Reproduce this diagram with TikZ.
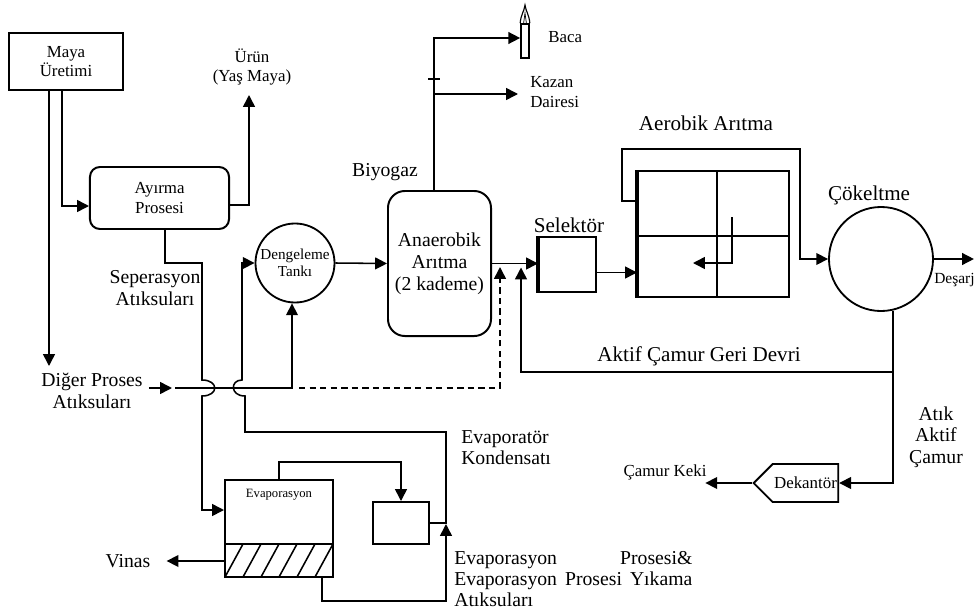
\documentclass[tikz,border=0pt]{standalone}
\usepackage{fontspec}
\setmainfont{Liberation Serif}
\usetikzlibrary{arrows.meta, positioning, calc, shapes.symbols}
\tikzset{
    box/.style={rectangle, draw=black, line width=1.4pt, inner sep=0pt, align=center, font=\fontsize{12}{14}\selectfont},
    roundbox/.style={box, rounded corners=7pt},
    tank/.style={circle, draw=black, line width=1.3pt, inner sep=0pt, align=center},
    lbl/.style={inner sep=0pt, align=center, font=\fontsize{14}{15.2}\selectfont},
    biglbl/.style={lbl, font=\fontsize{15}{16}\selectfont},
    slbl/.style={inner sep=0pt, align=center, font=\fontsize{12}{14}\selectfont},
    flow/.style={-{Triangle[length=8.4pt, width=8.4pt]}, line width=1.1pt},
    pipe/.style={line width=1.1pt},
    edge/.style={line width=2.4pt},
}

\begin{document}
\begin{tikzpicture}[x=0.025cm, y=-0.025cm]
    \useasboundingbox (0,0) rectangle (974,612);
    % sources
    \node[box, minimum width=2.85cm, minimum height=1.425cm] (maya) at (66,61.5) {Maya\\Üretimi};
    \node[roundbox, minimum width=3.475cm, minimum height=1.55cm] (ayirma) at (159.5,198) {Ayırma\\Prosesi};
    \node[slbl] (urun) at (252,67) {Ürün\\(Yaş Maya)};
    \node[lbl] (sepl) at (155,288) {Seperasyon\\Atıksuları};
    \node[lbl] (diger) at (92,391) {Diğer Proses\\Atıksuları};
    % treatment line
    \node[tank, minimum size=1.975cm, font=\fontsize{10.8}{12}\selectfont] (deng) at (295,263) {Dengeleme\\Tankı};
    \node[box, rounded corners=12pt, minimum width=2.575cm, minimum height=3.625cm, font=\fontsize{14}{15.5}\selectfont] (anaer) at (439.5,263.5) {Anaerobik\\Arıtma\\(2 kademe)};
    \node[lbl] (biyo) at (385,172) {Biyogaz};
    \node[box, minimum width=1.425cm, minimum height=1.375cm] (sel) at (567.5,264.5) {};
    \node[biglbl] (sell) at (569,225) {Selektör};
    \node[box, minimum width=3.775cm, minimum height=3.15cm] (aer) at (713.5,234) {};
    \node[biglbl] (aerl) at (706,123) {Aerobik Arıtma};
    \node[tank, minimum size=2.6cm] (cok) at (881,259) {};
    \node[biglbl] (cokl) at (869,195) {Çökeltme};
    \node[inner sep=0pt, anchor=west, font=\fontsize{11}{12}\selectfont] (desarj) at (934,280) {Deşarj};
    % biogas
    \node[draw, line width=1.2pt, inner sep=0pt, minimum width=0.2cm, minimum height=0.85cm] (baca) at (525,41) {};
    \node[slbl, anchor=west] (bacal) at (548,37) {Baca};
    \node[slbl, anchor=west, align=left] (kazan) at (530,92) {Kazan\\Dairesi};
    % sludge
    \node[biglbl] (devir) at (699,356) {Aktif Çamur Geri Devri};
    \node[lbl] (atik) at (936,437) {Atık\\Aktif\\Çamur};
    \node[signal, signal to=west, signal from=nowhere, signal pointer angle=90, draw, line width=1.3pt, minimum width=2.075cm, minimum height=0.95cm, inner sep=1pt, font=\fontsize{12}{14}\selectfont] (dek) at (805.5,483) {Dekantör};
    \node[slbl] (keki) at (665,472) {Çamur Keki};
    % evaporation
    \node[box, minimum width=2.7cm, minimum height=2.425cm] (evap) at (279,528.5) {};
    \node[inner sep=0pt, font=\fontsize{9}{10}\selectfont] (evapl) at (279,495) {Evaporasyon};
    \node[box, minimum width=1.4cm, minimum height=1.05cm] (kond) at (401,523) {};
    \node[lbl, anchor=west, align=left] (kondl) at (461,447.5) {Evaporatör\\Kondensatı};
    \node[lbl, anchor=west, align=left] (yikl) at (454,579) {\makebox[5.95cm][s]{Evaporasyon Prosesi\&}\\\makebox[5.95cm][s]{Evaporasyon Prosesi Yıkama}\\Atıksuları};
    \node[lbl] (vinas) at (128,561) {Vinas};

    % hatched bottom of evaporator
    \begin{scope}
        \clip (evap.west |- 0,544) rectangle (evap.south east);
        \foreach \hx in {-1,...,5}
            \draw[pipe] ({225+18*\hx},577) -- ++(18,-33);
    \end{scope}
    \draw[box] (evap.west |- 0,544) -- (evap.east |- 0,544);

    % thick inlet edges
    \draw[edge] (sel.north west) -- (sel.south west);
    \draw[edge] (aer.north west) -- (aer.south west);
    % aerobic compartments
    \draw[pipe] ($(aer.north)+(3.5,0)$) -- ($(aer.south)+(3.5,0)$);
    \draw[pipe] ($(aer.west)+(0,2)$) -- ($(aer.east)+(0,2)$);
    \draw[flow] (732,217) |- (693,263);

    % stack flame
    \draw[line width=0.8pt] (baca.north west) .. controls (521,14) and (524,12) .. (525,5) .. controls (526,12) and (529,14) .. (baca.north east);
    \draw[line width=0.5pt] (523.5,24) .. controls (524,18) .. (525,13) .. controls (526,18) .. (526.5,24);

    % arrows
    \coordinate (urunin) at (249,95);
    \coordinate (jin) at (175,388);
    \coordinate (bgsplit) at (434,94);
    \coordinate (split) at (cok.-77 |- 0,372);
    \draw[flow] ($(maya.south)+(-17,0)$) -- ++(0,275);
    \draw[flow] ($(maya.south)+(-4,0)$) |- ($(ayirma.west)+(0,8)$);
    \draw[flow] ($(ayirma.east)+(0,7)$) -| (urunin);
    \draw[flow] ($(ayirma.south)+(5.5,0)$) |- (202,263) -- (202,380) .. controls (219,380) and (219,396) .. (202,396) |- ($(evap.west)+(0,-18.5)$);
    \draw[flow] ($(diger.east |- jin)+(6,0)$) -- ($(jin)+(-3,0)$);
    \draw[flow] (jin) -| ($(deng.south)+(-3,0)$);
    \draw[flow, dash pattern=on 4.5pt off 3pt] ($(deng.south |- jin)+(4,0)$) -| ($(anaer.east)+(8,3.5)$);
    \draw[flow] (kond.east) -- ++(16,0) |- (245,432) -- (245,396) .. controls (230,396) and (230,380) .. (242,380) |- (deng.west);
    \draw[flow] (evap.north) -- ++(0,-17) -| (kond.north);
    \draw[flow] ($(evap.south)+(43,0)$) -- ++(0,23) -| ($(kond.east)+(16,1)$);
    \draw[flow] ($(evap.west)+(0,32.5)$) -- ($(vinas.east)+(16,0)$);
    \draw[flow] (deng.east) -- (anaer.west);
    \draw[flow] (anaer.east) -- (sel.west |- anaer.east);
    \draw[flow] ($(anaer.north)+(-5.5,0)$) |- ($(baca.west)+(0,-3)$);
    \draw[flow] (bgsplit) -- ++(84,0);
    \draw[pipe] (428,79) -- (440,79);
    \draw[flow] ($(sel.east)+(0,8)$) -- (aer.west |- 0,272.5);
    \draw[flow] ($(aer.west)+(0,-33)$) -- ++(-15,0) |- (800,149) |- (cok.west);
    \draw[flow] (cok.east) -- ++(40,0);
    \draw[flow] (cok.-77) -- (split) -| ($(sel.west)+(-17,3)$);
    \draw[flow] (split) |- (dek.east);
    \draw[flow] (dek.west) -- ++(-47,0);
\end{tikzpicture}
\end{document}
